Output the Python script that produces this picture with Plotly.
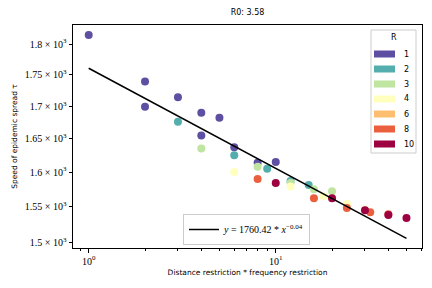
import numpy as np
import plotly.graph_objects as go

# ---- data ----
r_labels = ["1", "2", "3", "4", "6", "8", "10"]
r_colors = ["#5e4fa2", "#54aead", "#bfe5a0", "#ffffbe", "#fdbf6f", "#ea603f", "#9e0142"]

purple_x = [1, 2, 2, 3, 4, 4, 5, 6, 8, 10]
purple_y = [1815, 1739, 1699, 1714, 1690, 1655, 1682, 1637, 1614, 1615]

teal_x = [3, 6, 9, 12, 15]
teal_y = [1676, 1625, 1605, 1587, 1581]

green_x = [4, 8, 12, 16, 20]
green_y = [1635, 1608, 1584, 1575, 1572]

yellow_x = [6, 12, 18, 24, 30]
yellow_y = [1600, 1579, 1565, 1554, 1546]

redorange_x = [8, 16, 24, 32, 40]
redorange_y = [1590, 1562, 1548, 1542, 1539]

darkred_x = [10, 20, 30, 40, 50]
darkred_y = [1584, 1562, 1545, 1538, 1534]

fit_a = 1760.42
fit_b = -0.04
fit_x = [1, 2, 5, 10, 20, 50]

y_tickvals = [1500, 1550, 1600, 1650, 1700, 1750, 1800]
y_ticktext = ["1.5 × 10<sup>3</sup>", "1.55 × 10<sup>3</sup>", "1.6 × 10<sup>3</sup>",
              "1.65 × 10<sup>3</sup>", "1.7 × 10<sup>3</sup>", "1.75 × 10<sup>3</sup>",
              "1.8 × 10<sup>3</sup>"]
x_tickvals = [1, 10]
x_ticktext = ["10<sup>0</sup>", "10<sup>1</sup>"]
x_minor = [0.9, 2, 3, 4, 5, 6, 7, 8, 9, 20, 30, 40, 50, 60]

groups = [
    (purple_x, purple_y, r_colors[0]),
    (teal_x, teal_y, r_colors[1]),
    (green_x, green_y, r_colors[2]),
    (yellow_x, yellow_y, r_colors[3]),
    (redorange_x, redorange_y, r_colors[5]),
    (darkred_x, darkred_y, r_colors[6]),
]

W, H = 432, 288
ML, MR, MT, MB = 73, 10, 25, 40
PW, PH = W - ML - MR, H - MT - MB


def px(x):
    return (x - ML) / PW


def py(y):
    return (H - MB - y) / PH


fig = go.Figure()

for gx, gy, col in groups:
    fig.add_trace(go.Scatter(
        x=gx, y=gy, mode="markers",
        marker=dict(size=8, color=col, line=dict(width=0)),
        showlegend=False, hoverinfo="x+y",
    ))

fy = [fit_a * (v ** fit_b) for v in fit_x]
fig.add_trace(go.Scatter(
    x=fit_x, y=fy, mode="lines",
    line=dict(color="black", width=1.5),
    name="<i>y</i> = 1760.42 * <i>x</i><sup>−0.04</sup>",
    showlegend=True,
))

sans = "DejaVu Sans"
serif = "Liberation Serif"

# ---- R legend (colour patches), drawn as a boxed key ----
shapes = [dict(type="rect", xref="paper", yref="paper",
               x0=px(371), x1=px(416), y0=py(153), y1=py(30),
               line=dict(color="#cccccc", width=1), fillcolor="white", layer="above")]
annotations = [dict(text="R", xref="paper", yref="paper", x=px(393.5), y=py(38),
                    xanchor="center", yanchor="middle", showarrow=False,
                    font=dict(family=sans, size=8, color="black"))]
for i, (lab, col) in enumerate(zip(r_labels, r_colors)):
    yc = 54 + 15 * i
    shapes.append(dict(type="rect", xref="paper", yref="paper",
                       x0=px(374), x1=px(395), y0=py(yc + 3.5), y1=py(yc - 3.5),
                       line=dict(width=0), fillcolor=col, layer="above"))
    annotations.append(dict(text=lab, xref="paper", yref="paper", x=px(401.5), y=py(yc),
                            xanchor="left", yanchor="middle", showarrow=False,
                            font=dict(family=sans, size=8, color="black")))

fig.update_layout(
    width=W, height=H,
    margin=dict(l=ML, r=MR, t=MT, b=MB),
    paper_bgcolor="white", plot_bgcolor="white",
    title=dict(text="R0: 3.58", x=0.5, xref="paper", xanchor="center",
               y=1 - 12 / 288, yref="container", yanchor="middle",
               font=dict(family=sans, size=8, color="black")),
    legend=dict(
        x=0.497, y=py(245), xanchor="center", yanchor="bottom",
        bgcolor="white", bordercolor="#cccccc", borderwidth=1,
        font=dict(family=serif, size=10, color="black"),
        itemwidth=30,
    ),
    showlegend=True,
    shapes=shapes,
    annotations=annotations,
)

fig.update_xaxes(
    type="log", range=[-0.084, 1.782],
    showgrid=False, zeroline=False,
    showline=True, linecolor="black", linewidth=1, mirror=True,
    ticks="outside", ticklen=3.5, tickwidth=0.8, tickcolor="black",
    tickvals=x_tickvals, ticktext=x_ticktext,
    tickfont=dict(family=serif, size=10, color="black"),
    minor=dict(tickvals=x_minor, ticks="outside", ticklen=2, tickwidth=0.6, tickcolor="black", showgrid=False),
    title=dict(text="Distance restriction * frequency restriction",
               font=dict(family=sans, size=7.5, color="black"), standoff=4),
)

fig.update_yaxes(
    type="log", range=[3.1738, 3.2629],
    showgrid=False, zeroline=False,
    showline=True, linecolor="black", linewidth=1, mirror=True,
    ticks="outside", ticklen=3.5, tickwidth=0.8, tickcolor="black",
    tickvals=y_tickvals, ticktext=y_ticktext,
    tickfont=dict(family=serif, size=10, color="black"),
    title=dict(text="Speed of epidemic spread τ",
               font=dict(family=sans, size=7.5, color="black"), standoff=6),
)

fig.write_html("out.html", config={"displayModeBar": False},
               post_script="document.body.style.margin='0px';")
